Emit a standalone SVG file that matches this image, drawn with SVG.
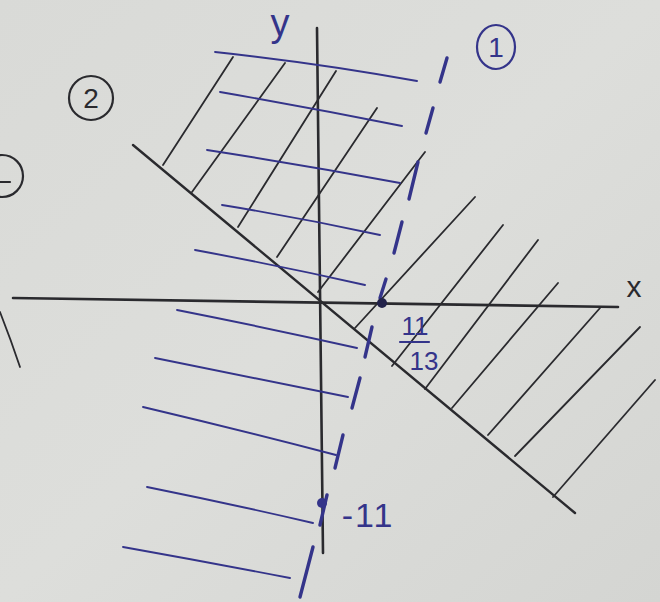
<svg xmlns="http://www.w3.org/2000/svg" width="660" height="602" viewBox="0 0 660 602">
<defs>
<linearGradient id="paper" x1="0" y1="0" x2="1" y2="1">
<stop offset="0" stop-color="#d9dad7"/>
<stop offset="0.5" stop-color="#dddedb"/>
<stop offset="1" stop-color="#d4d5d2"/>
</linearGradient>
<style>
.ink{stroke:#2a2a2e;fill:none;stroke-linecap:round}
.axis{stroke-width:2.6}
.hb{stroke-width:1.8}
.blue{stroke:#34348a;fill:none;stroke-linecap:round}
.hbl{stroke-width:1.9}
.dash{stroke-width:3.4}
.lbl{font-family:"Liberation Sans","DejaVu Sans",sans-serif;fill:#34348a}
.lblk{font-family:"Liberation Sans","DejaVu Sans",sans-serif;fill:#2a2a2e}
</style>
</defs>
<rect width="660" height="602" fill="url(#paper)"/>

<g id="axes">
<line class="ink axis" x1="13" y1="298" x2="618" y2="307"/>
<line class="ink axis" x1="317" y1="28" x2="323" y2="553"/>
<text class="lbl" x="280" y="36" font-size="38" text-anchor="middle">y</text>
<text class="lblk" x="634" y="297" font-size="30" text-anchor="middle">x</text>
</g>

<g id="boundary-2">
<line class="ink" stroke-width="2.4" x1="133" y1="145" x2="575" y2="513"/>
</g>

<g id="hatch-black">
<line class="ink hb" x1="163" y1="165" x2="233" y2="57"/>
<line class="ink hb" x1="192" y1="192" x2="285" y2="63"/>
<line class="ink hb" x1="238" y1="227" x2="336" y2="71"/>
<line class="ink hb" x1="277" y1="257" x2="377" y2="108"/>
<line class="ink hb" x1="318" y1="292" x2="425" y2="152"/>
<line class="ink hb" x1="355" y1="328" x2="475" y2="197"/>
<line class="ink hb" x1="392" y1="366" x2="503" y2="225"/>
<line class="ink hb" x1="425" y1="389" x2="538" y2="240"/>
<line class="ink hb" x1="452" y1="408" x2="558" y2="283"/>
<line class="ink hb" x1="488" y1="435" x2="600" y2="308"/>
<line class="ink hb" x1="515" y1="456" x2="640" y2="327"/>
<line class="ink hb" x1="553" y1="497" x2="655" y2="380"/>
</g>

<g id="hatch-blue">
<path class="blue hbl" d="M215,52 Q318,63 417,81"/>
<path class="blue hbl" d="M220,92 Q312,108 402,126"/>
<path class="blue hbl" d="M207,150 Q304,165 400,183"/>
<path class="blue hbl" d="M222,205 Q302,218 380,235"/>
<path class="blue hbl" d="M195,250 Q281,266 365,285"/>
<path class="blue hbl" d="M177,310 Q268,328 357,348"/>
<path class="blue hbl" d="M155,358 Q252,378 348,397"/>
<path class="blue hbl" d="M143,407 Q240,430 336,455"/>
<path class="blue hbl" d="M147,487 Q231,504 313,523"/>
<path class="blue hbl" d="M123,547 Q207,562 290,578"/>
</g>

<g id="boundary-1">
<line class="blue dash" x1="447" y1="58" x2="440" y2="82"/>
<line class="blue dash" x1="433" y1="108" x2="426" y2="133"/>
<line class="blue dash" x1="418" y1="162" x2="409" y2="199"/>
<line class="blue dash" x1="402" y1="222" x2="394" y2="253"/>
<line class="blue dash" x1="386" y1="279" x2="380" y2="298"/>
<line class="blue dash" x1="372" y1="327" x2="365" y2="357"/>
<line class="blue dash" x1="360" y1="378" x2="352" y2="408"/>
<line class="blue dash" x1="343" y1="435" x2="335" y2="468"/>
<line class="blue dash" x1="327" y1="495" x2="320" y2="525"/>
<line class="blue dash" x1="313" y1="547" x2="300" y2="597"/>
</g>

<g id="points">
<circle cx="382" cy="303" r="5" fill="#22224a"/>
<circle cx="322" cy="503" r="5" fill="#34348a"/>
<text class="lbl" x="415" y="335" font-size="26" text-anchor="middle">11</text>
<line class="blue" stroke-width="2.2" x1="400" y1="342" x2="429" y2="342"/>
<text class="lbl" x="424" y="370" font-size="26" text-anchor="middle">13</text>
<text class="lbl" x="368" y="527" font-size="34" text-anchor="middle" letter-spacing="2">-11</text>
</g>

<g id="labels">
<ellipse cx="496" cy="47" rx="19" ry="22" fill="none" stroke="#34348a" stroke-width="2.2"/>
<text class="lbl" x="496" y="57" font-size="28" text-anchor="middle">1</text>
<circle cx="91" cy="98" r="22" fill="none" stroke="#2a2a2e" stroke-width="2.2"/>
<text class="lblk" x="91" y="108" font-size="28" text-anchor="middle">2</text>
<circle cx="2" cy="176" r="21" fill="none" stroke="#2a2a2e" stroke-width="2.2"/>
<line class="ink" stroke-width="2.2" x1="0" y1="182" x2="10" y2="182"/>
<path class="ink" stroke-width="1.8" d="M0,312 Q11,340 20,367"/>
</g>
</svg>
